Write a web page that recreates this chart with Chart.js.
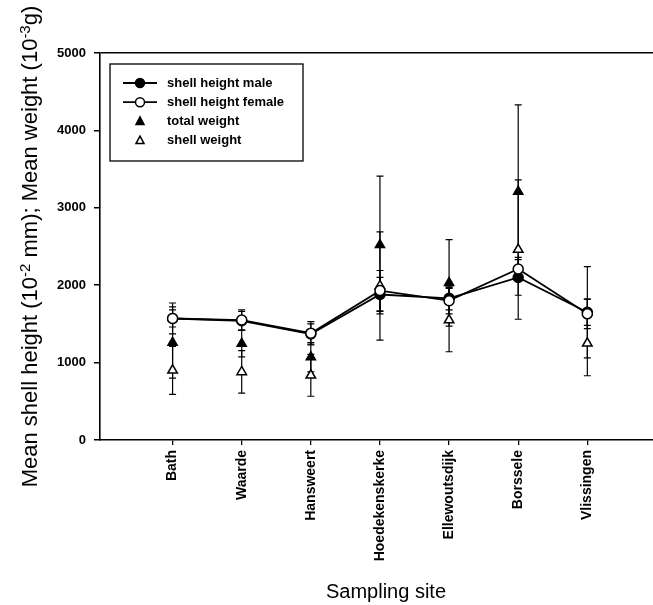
<!DOCTYPE html>
<html>
<head>
<meta charset="utf-8">
<script src="https://cdn.jsdelivr.net/npm/chart.js@4.4.1/dist/chart.umd.min.js"></script>
<style>
    html, body { margin: 0; padding: 0; background: #fff; overflow: hidden; }
    #wrap { width: 653px; height: 605px; overflow: hidden; }
</style>
</head>
<body>
<!-- canvas a bit wider than the window so the plot frame runs off the right edge like the scan -->
<div id="wrap"><canvas id="chart" width="660" height="605"></canvas></div>
<script>
// Sampling sites
const sites = ['Bath', 'Waarde', 'Hansweert', 'Hoedekenskerke', 'Ellewoutsdijk', 'Borssele', 'Vlissingen'];

// Shell height (10^-2 mm), mean and SD
const heightMale = [1570, 1540, 1370, 1880, 1830, 2100, 1650];
const heightMaleSD = [110, 120, 130, 220, 150, 230, 170];
const heightFemale = [1570, 1550, 1380, 1930, 1800, 2210, 1630];
const heightFemaleSD = [200, 130, 150, 260, 170, 150, 190];

// Weights (10^-3 g), mean and SD
const totalWeight = [1260, 1245, 1070, 2520, 2030, 3210, 1650];
const totalWeightSD = [460, 170, 190, 890, 560, 1120, 590];
const shellWeight = [900, 880, 835, 1990, 1550, 2460, 1250];
const shellWeightSD = [310, 275, 270, 700, 410, 900, 420];

const yTicks = [0, 1000, 2000, 3000, 4000, 5000];

const FONT = 'Arial, "Liberation Sans", Helvetica, sans-serif';

function points(values) {
    return values.map((v, i) => ({ x: i, y: v }));
}

// Error bars, drawn under the markers
const errorBars = {
    id: 'errorBars',
    beforeDatasetsDraw(chart) {
        const ctx = chart.ctx;
        const xs = chart.scales.x, ys = chart.scales.y;
        ctx.save();
        ctx.strokeStyle = '#000';
        ctx.lineWidth = 1.2;
        chart.data.datasets.forEach(ds => {
            ds.data.forEach((p, j) => {
                const sd = ds.sd[j];
                const x = xs.getPixelForValue(p.x);
                const top = ys.getPixelForValue(p.y + sd);
                const bot = ys.getPixelForValue(p.y - sd);
                ctx.beginPath();
                ctx.moveTo(x, top); ctx.lineTo(x, bot);
                ctx.moveTo(x - 3.5, top); ctx.lineTo(x + 3.5, top);
                ctx.moveTo(x - 3.5, bot); ctx.lineTo(x + 3.5, bot);
                ctx.stroke();
            });
        });
        ctx.restore();
    }
};

// Boxed legend inside the plot, plus axis titles with superscripts
const legendBox = {
    id: 'legendBox',
    afterDraw(chart) {
        const ctx = chart.ctx;
        const a = chart.chartArea;
        const bx = a.left + 10, by = a.top + 11, bw = 193, bh = 97;
        ctx.save();
        ctx.strokeStyle = '#000';
        ctx.lineWidth = 1.3;
        ctx.strokeRect(bx, by, bw, bh);

        ctx.font = 'bold 13px ' + FONT;
        ctx.textBaseline = 'middle';
        chart.data.datasets.forEach((ds, i) => {
            const cy = by + 19 + i * 19.2;
            const cx = bx + 30;
            ctx.strokeStyle = '#000';
            if (ds.showLine !== false) {
                ctx.lineWidth = 1.8;
                ctx.beginPath();
                ctx.moveTo(cx - 17, cy); ctx.lineTo(cx + 17, cy);
                ctx.stroke();
            }
            ctx.fillStyle = ds.pointBackgroundColor;
            ctx.lineWidth = 1.5;
            ctx.beginPath();
            if (ds.pointStyle === 'circle') {
                ctx.arc(cx, cy, 4.5, 0, Math.PI * 2);
            } else {
                ctx.moveTo(cx, cy - 4.5);
                ctx.lineTo(cx + 4, cy + 3);
                ctx.lineTo(cx - 4, cy + 3);
                ctx.closePath();
            }
            ctx.fill();
            ctx.stroke();
            ctx.fillStyle = '#000';
            ctx.fillText(ds.label, bx + 57, cy);
        });

        // x title
        ctx.font = '20px ' + FONT;
        ctx.textAlign = 'center';
        ctx.fillText('Sampling site', 386, 592);

        // y title, rotated, with superscripts
        const parts = [
            ['Mean shell height (10', false], ['-2', true], [' mm); Mean weight (10', false], ['-3', true], ['g)', false]
        ];
        const big = '22px ' + FONT, small = '15px ' + FONT;
        let total = 0;
        parts.forEach(p => { ctx.font = p[1] ? small : big; total += ctx.measureText(p[0]).width; });
        ctx.translate(30, (a.top + a.bottom) / 2);
        ctx.rotate(-Math.PI / 2);
        ctx.textAlign = 'left';
        ctx.textBaseline = 'alphabetic';
        let px = -total / 2;
        parts.forEach(p => {
            ctx.font = p[1] ? small : big;
            ctx.fillText(p[0], px, p[1] ? 0 : 7);
            px += ctx.measureText(p[0]).width;
        });
        ctx.restore();
    }
};

const ctx = document.getElementById('chart').getContext('2d');
const chart = new Chart(ctx, {
    type: 'scatter',
    data: {
        datasets: [
            {
                label: 'shell height male',
                data: points(heightMale), sd: heightMaleSD,
                showLine: true, borderColor: '#000', borderWidth: 1.8,
                pointStyle: 'circle', pointRadius: 5, pointBorderWidth: 1.5,
                pointBackgroundColor: '#000', pointBorderColor: '#000',
                order: 1
            },
            {
                label: 'shell height female',
                data: points(heightFemale), sd: heightFemaleSD,
                showLine: true, borderColor: '#000', borderWidth: 1.8,
                pointStyle: 'circle', pointRadius: 5, pointBorderWidth: 1.5,
                pointBackgroundColor: '#fff', pointBorderColor: '#000',
                order: 0
            },
            {
                label: 'total weight',
                data: points(totalWeight), sd: totalWeightSD,
                showLine: false,
                pointStyle: 'triangle', pointRadius: 5.5, pointBorderWidth: 1.3,
                pointBackgroundColor: '#000', pointBorderColor: '#000',
                order: 2
            },
            {
                label: 'shell weight',
                data: points(shellWeight), sd: shellWeightSD,
                showLine: false,
                pointStyle: 'triangle', pointRadius: 5.5, pointBorderWidth: 1.5,
                pointBackgroundColor: '#fff', pointBorderColor: '#000',
                order: 3
            }
        ]
    },
    options: {
        responsive: false,
        animation: false,
        layout: { padding: { top: 53, right: 0, bottom: 0, left: 0 } },
        plugins: {
            legend: { display: false },
            tooltip: { enabled: false }
        },
        scales: {
            x: {
                type: 'linear',
                min: -1.05,
                max: 6.95,
                afterFit: s => { s.height = 165; },
                afterBuildTicks: s => { s.ticks = sites.map((n, i) => ({ value: i })); },
                ticks: {
                    autoSkip: false,
                    minRotation: 90,
                    maxRotation: 90,
                    padding: 5,
                    color: '#000',
                    font: { family: FONT, size: 14, weight: 'bold' },
                    callback: v => sites[v]
                },
                grid: { drawOnChartArea: false, tickColor: '#000', tickLength: 5, lineWidth: 1.3 },
                border: { display: true, color: '#000', width: 1.6 }
            },
            y: {
                min: 0,
                max: 5000,
                afterFit: s => { s.width = 100; },
                afterBuildTicks: s => { s.ticks = yTicks.map(v => ({ value: v })); },
                ticks: {
                    padding: 8,
                    color: '#000',
                    font: { family: FONT, size: 13, weight: 'bold' },
                    callback: v => String(v)
                },
                grid: {
                    color: c => (c.tick && c.tick.value === 5000) ? '#000' : 'rgba(0,0,0,0)',
                    lineWidth: 1.5,
                    tickColor: '#000',
                    tickLength: 6
                },
                border: { display: true, color: '#000', width: 1.6 }
            }
        }
    },
    plugins: [errorBars, legendBox]
});
</script>
</body>
</html>
